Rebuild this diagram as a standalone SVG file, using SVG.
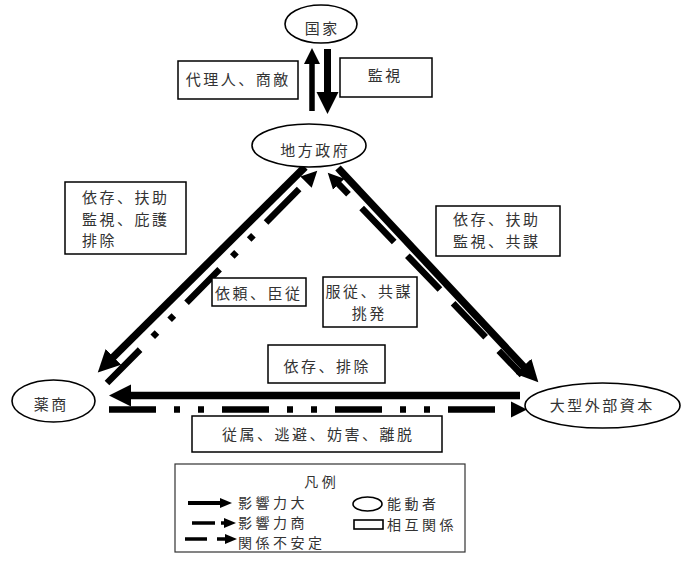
<svg xmlns="http://www.w3.org/2000/svg" width="685" height="563" viewBox="0 0 685 563">
<style>
text{font-family:"Noto Sans CJK JP","Noto Sans CJK SC",sans-serif;font-size:15px;fill:#333;letter-spacing:2.5px}
.lg{font-size:14px;letter-spacing:3.5px}
.node ellipse{fill:#fff;stroke:#000;stroke-width:1.6}
.box rect{fill:#fff;stroke:#000;stroke-width:1.5}
.mid{text-anchor:middle}
.solid{stroke:#000;fill:none;stroke-width:7.5}
.dd{stroke:#000;fill:none;stroke-width:6.5;stroke-dasharray:47 18 6 18 6 18}
.dash{stroke:#000;fill:none;stroke-width:6.5;stroke-dasharray:47 19;stroke-dashoffset:13.5}
</style>
<defs>
<marker id="hBig" markerUnits="userSpaceOnUse" markerWidth="24" markerHeight="24" viewBox="0 -12 24 24" refX="1" refY="0" orient="auto"><path d="M0,-11 L22,0 L0,11 z" fill="#000"/></marker>
<marker id="hSmall" markerUnits="userSpaceOnUse" markerWidth="18" markerHeight="18" viewBox="0 -9 18 18" refX="1" refY="0" orient="auto"><path d="M0,-8 L16,0 L0,8 z" fill="#000"/></marker>
<marker id="hLeg" markerUnits="userSpaceOnUse" markerWidth="14" markerHeight="12" viewBox="0 -6 14 12" refX="1" refY="0" orient="auto"><path d="M0,-5 L12,0 L0,5 z" fill="#000"/></marker>
</defs>

<g id="connectors">
<line x1="312" y1="111" x2="312" y2="63" stroke="#000" stroke-width="5.5" marker-end="url(#hSmall)"/>
<line x1="327.5" y1="49" x2="327.5" y2="93" stroke="#000" stroke-width="7" marker-end="url(#hBig)"/>
<line class="solid" x1="305" y1="167" x2="112.7" y2="357.6" marker-end="url(#hBig)"/>
<line class="dd" x1="107" y1="383" x2="306.7" y2="181.4" marker-end="url(#hSmall)"/>
<line class="solid" x1="338" y1="168" x2="524" y2="367" marker-end="url(#hBig)"/>
<line class="dash" x1="522" y1="375" x2="338.1" y2="183.5" marker-end="url(#hSmall)"/>
<line class="solid" x1="520" y1="395.5" x2="130" y2="395.5" marker-end="url(#hBig)"/>
<line class="dd" x1="109" y1="409.5" x2="512" y2="409.5" stroke-width="6" stroke-dasharray="48 18 6 18 6 18" marker-end="url(#hSmall)"/>
</g>

<g id="guojia" class="node"><ellipse cx="321" cy="24" rx="36" ry="19"/><text class="mid" x="322.2" y="34">国家</text></g>
<g id="difang" class="node"><ellipse cx="309" cy="145.5" rx="57" ry="21.5"/><text class="mid" x="315.2" y="155.5">地方政府</text></g>
<g id="yaoshang" class="node"><ellipse cx="53.5" cy="401" rx="41.5" ry="21"/><text class="mid" x="51.2" y="410">薬商</text></g>
<g id="waibu" class="node"><ellipse cx="602.5" cy="405.5" rx="77.5" ry="22.5"/><text class="mid" x="602.2" y="411">大型外部資本</text></g>

<g id="b1" class="box"><rect x="178" y="61" width="120" height="38"/><text class="mid" x="238.2" y="85">代理人、商敵</text></g>
<g id="b2" class="box"><rect x="340" y="58" width="92" height="39"/><text class="mid" x="385.2" y="81">監視</text></g>
<g id="b3" class="box"><rect x="65" y="182" width="121" height="72"/><text x="82" y="203">依存、扶助</text><text x="82" y="225">監視、庇護</text><text x="82" y="246">排除</text></g>
<g id="b4" class="box"><rect x="212" y="278" width="94" height="28"/><text x="215" y="298.5">依頼、臣従</text></g>
<g id="b5" class="box"><rect x="323" y="277" width="94" height="50"/><text x="325.5" y="297">服従、共謀</text><text class="mid" x="369.2" y="319">挑発</text></g>
<g id="b6" class="box"><rect x="436" y="206" width="124" height="50"/><text x="453" y="225">依存、扶助</text><text x="453" y="246.5">監視、共謀</text></g>
<g id="b7" class="box"><rect x="268" y="345" width="117" height="38"/><text class="mid" x="327.2" y="372">依存、排除</text></g>
<g id="b8" class="box"><rect x="192" y="416" width="250" height="36"/><text class="mid" x="318.2" y="440">従属、逃避、妨害、離脱</text></g>

<g id="legend">
<rect x="175" y="464" width="290" height="88" fill="#fff" stroke="#333" stroke-width="1.2"/>
<text class="mid lg" x="321.8" y="487">凡例</text>
<line x1="188" y1="503" x2="221" y2="503" stroke="#000" stroke-width="4" marker-end="url(#hLeg)"/>
<text class="lg" x="238" y="508">影響力大</text>
<line x1="192" y1="523" x2="225" y2="523" stroke="#000" stroke-width="3.5" stroke-dasharray="23 6 3 10" marker-end="url(#hLeg)"/>
<text class="lg" x="238" y="528">影響力商</text>
<line x1="185" y1="539" x2="226" y2="539" stroke="#000" stroke-width="3.5" stroke-dasharray="22 10 20" marker-end="url(#hLeg)"/>
<text class="lg" x="238" y="548">関係不安定</text>
<ellipse cx="367.5" cy="504" rx="14.5" ry="7" fill="#fff" stroke="#000" stroke-width="1.6"/>
<text class="lg" x="387" y="509">能動者</text>
<rect x="354" y="520" width="29" height="9" fill="#fff" stroke="#000" stroke-width="1.6"/>
<text class="lg" x="387" y="530">相互関係</text>
</g>
</svg>
